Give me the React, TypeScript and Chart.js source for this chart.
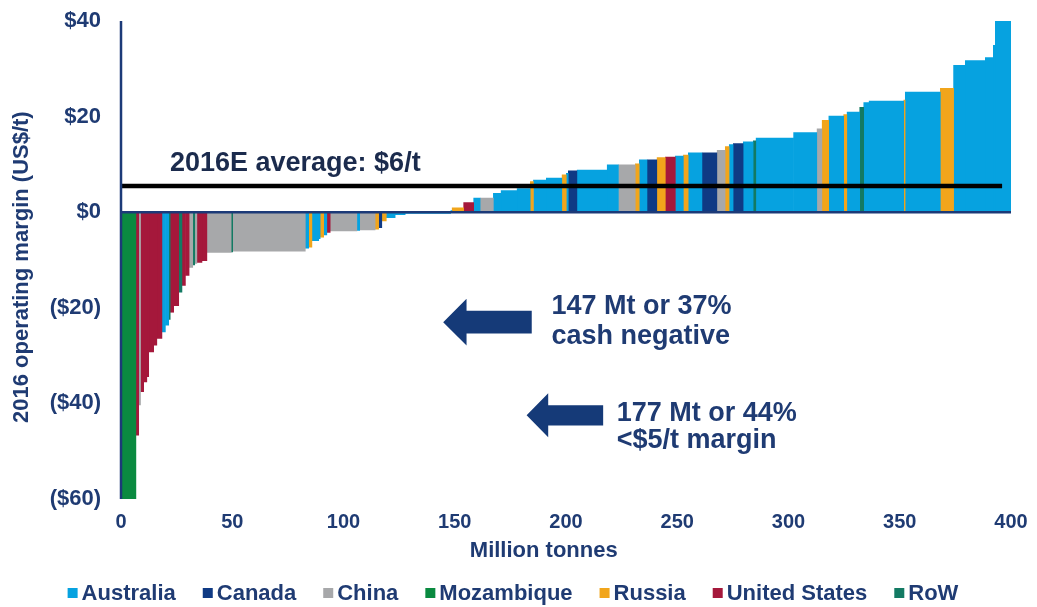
import React, { useEffect, useRef } from "react";
import { Chart, registerables } from "chart.js";

Chart.register(...registerables);

// ---- Data -----------------------------------------------------------------
const countryNames = ["Australia", "Canada", "China", "Mozambique", "Russia", "United States", "RoW"];
const countryCodes = ["AU", "CA", "CN", "MZ", "RU", "US", "RW"];
const countryColors = ["#06a2e0", "#0f3a84", "#a7a8aa", "#0a8a40", "#f1a51b", "#a5183b", "#137a63"];

// Mine-by-mine cost curve: capacity (Mt), 2016 operating margin (US$/t), country
const volumes = [
  6.6, 1.2, 0.8, 1.4, 1.5, 0.8, 2.2, 1.5, 2.3, 1.5,
  1.5, 0.7, 1.5, 2.3, 1.5, 1.5, 1.7, 1.6, 0.9, 1.0,
  2.3, 2.2, 10.9, 0.6, 32.7, 1.5, 1.5, 3.0, 0.7, 1.5,
  1.5, 1.5, 12.0, 1.2, 7.0, 1.5, 1.5, 2.0, 4.0, 4.5,
  20.4, 0.6, 5.2, 4.5, 3.0, 5.9, 3.4, 7.2, 6.0, 1.4,
  5.8, 7.0, 2.0, 0.9, 3.9, 13.5, 5.1, 7.6, 1.8, 3.5,
  4.4, 3.8, 4.5, 3.6, 2.2, 6.2, 6.7, 3.7, 1.8, 1.8,
  4.5, 4.5, 1.2, 16.9, 10.5, 2.3, 3.0, 6.7, 1.5, 5.7,
  1.8, 2.4, 15.6, 0.7, 15.8, 5.9, 5.3, 9.0, 3.6, 0.9,
  7.2,
];
const margins = [
  -60, -46.7, -40.4, -37.6, -35.6, -34.5, -29.3, -27.9, -26.5, -25.1,
  -23.7, -22.5, -21.0, -19.6, -16.8, -15.4, -13.3, -11.6, -11.1, -10.8,
  -10.6, -10.2, -8.5, -8.4, -8.2, -7.6, -7.4, -6.0, -5.6, -5.3,
  -4.8, -4.3, -4.0, -3.9, -3.8, -3.6, -3.3, -1.9, -1.2, -0.6,
  -0.3, 0.4, 1.0, 2.1, 3.0, 3.0, 4.0, 4.6, 5.0, 6.5,
  6.8, 7.2, 7.9, 8.2, 8.7, 8.9, 10.0, 10.0, 10.2, 11.0,
  11.0, 11.5, 11.6, 11.8, 12.0, 12.5, 12.5, 13.0, 13.8, 14.2,
  14.4, 14.8, 15.0, 15.6, 16.7, 17.5, 19.3, 20.2, 20.5, 21.0,
  22.0, 23.0, 23.3, 23.5, 25.2, 26.0, 30.8, 31.8, 32.4, 35.0,
  40.0,
];
const producers = [
  "MZ", "US", "CN", "US", "US", "US", "US", "US", "US", "AU",
  "AU", "RW", "US", "US", "RW", "US", "US", "CN", "RW", "CN",
  "US", "US", "CN", "RW", "CN", "AU", "RU", "AU", "AU", "RU",
  "AU", "US", "CN", "AU", "CN", "RU", "CA", "RU", "AU", "AU",
  "AU", "AU", "RU", "US", "AU", "CN", "AU", "AU", "AU", "RU",
  "AU", "AU", "RU", "AU", "CA", "AU", "AU", "CN", "RU", "AU",
  "CA", "RU", "US", "AU", "RU", "AU", "CA", "CN", "RU", "AU",
  "CA", "AU", "RW", "AU", "AU", "CN", "RU", "AU", "RU", "AU",
  "RW", "AU", "AU", "RU", "AU", "RU", "AU", "AU", "AU", "AU",
  "AU",
];

const averageMargin = 5.5;
const averageSpan = [0, 396];
const averageLabel = "2016E average: $6/t";
const note1 = ["147 Mt or 37%", "cash negative"];
const note2 = ["177 Mt or 44%", "<$5/t margin"];

const yTickValues = [-60, -40, -20, 0, 20, 40];
const xTickValues = [0, 50, 100, 150, 200, 250, 300, 350, 400];
const xTitle = "Million tonnes";
const yTitle = "2016 operating margin (US$/t)";

// ---- Styling --------------------------------------------------------------
const FONT = "'Liberation Sans', Arial, Helvetica, sans-serif";
const NAVY_TEXT = "#1f3b73";
const AXIS_NAVY = "#1c3a78";
const ARROW_NAVY = "#153a78";
const SEAM_OVERLAP = 0.35; // Mt, hides anti-alias seams between adjacent blocks

const fmtMoney = (v: number) => (v === 0 ? "$0" : v > 0 ? `$${v}` : `($${-v})`);

const annotationPlugin = {
  id: "costCurveAnnotations",
  afterDatasetsDraw(chart: any) {
    const { ctx, chartArea, scales } = chart;
    const xs = scales.x;
    const ys = scales.y;
    const X = (v: number) => xs.getPixelForValue(v);
    const Y = (v: number) => ys.getPixelForValue(v);
    ctx.save();
    // axis lines
    ctx.strokeStyle = AXIS_NAVY;
    ctx.lineWidth = 2.5;
    ctx.beginPath();
    ctx.moveTo(chartArea.left, chartArea.top);
    ctx.lineTo(chartArea.left, chartArea.bottom);
    ctx.stroke();
    ctx.beginPath();
    ctx.moveTo(chartArea.left, Y(0));
    ctx.lineTo(chartArea.right, Y(0));
    ctx.stroke();

    // average label
    ctx.fillStyle = "#1b2b4d";
    ctx.font = `bold 27px ${FONT}`;
    ctx.textAlign = "left";
    ctx.textBaseline = "alphabetic";
    ctx.fillText(averageLabel, X(22), Y(8.6));

    // arrows
    const arrow = (tip: number, headEnd: number, end: number, yc: number, headHalf: number, shaftHalf: number) => {
      ctx.beginPath();
      ctx.moveTo(X(tip), Y(yc));
      ctx.lineTo(X(headEnd), Y(yc + headHalf));
      ctx.lineTo(X(headEnd), Y(yc + shaftHalf));
      ctx.lineTo(X(end), Y(yc + shaftHalf));
      ctx.lineTo(X(end), Y(yc - shaftHalf));
      ctx.lineTo(X(headEnd), Y(yc - shaftHalf));
      ctx.lineTo(X(headEnd), Y(yc - headHalf));
      ctx.closePath();
      ctx.fill();
    };
    ctx.fillStyle = ARROW_NAVY;
    arrow(144.8, 155.3, 184.6, -23.0, 4.9, 2.4);
    arrow(182.3, 192.0, 216.7, -42.5, 4.6, 2.1);

    // notes
    ctx.fillStyle = NAVY_TEXT;
    ctx.font = `bold 27px ${FONT}`;
    ctx.fillText(note1[0], X(193.5), Y(-21.3));
    ctx.fillText(note1[1], X(193.5), Y(-27.6));
    ctx.fillText(note2[0], X(222.8), Y(-43.7));
    ctx.fillText(note2[1], X(222.8), Y(-49.4));

    // axis titles
    ctx.font = `bold 22px ${FONT}`;
    ctx.textAlign = "center";
    ctx.textBaseline = "middle";
    ctx.fillText(xTitle, X(190), chartArea.bottom + 52);
    ctx.save();
    ctx.translate(22, Y(-11.5));
    ctx.rotate(-Math.PI / 2);
    ctx.fillText(yTitle, 0, 0);
    ctx.restore();

    // legend
    const box = 10;
    const boxGap = 4;
    const itemGap = 27;
    ctx.font = `bold 22px ${FONT}`;
    ctx.textAlign = "left";
    ctx.textBaseline = "middle";
    const widths = countryNames.map((n) => box + boxGap + ctx.measureText(n).width);
    const total = widths.reduce((a, b) => a + b, 0) + itemGap * (countryNames.length - 1);
    const cy = 593;
    let lx = 513 - total / 2;
    countryNames.forEach((n, i) => {
      ctx.fillStyle = countryColors[i];
      ctx.fillRect(lx, cy - box / 2, box, box);
      ctx.fillStyle = NAVY_TEXT;
      ctx.fillText(n, lx + box + boxGap, cy + 1);
      lx += widths[i] + itemGap;
    });
    ctx.restore();
  },
};

export default function App() {
  const ref = useRef<HTMLCanvasElement | null>(null);

  useEffect(() => {
    if (!ref.current) return;
    let start = 0;
    const barSets = volumes.map((w, i) => {
      const x0 = start;
      start += w;
      const x1 = i < volumes.length - 1 ? start + SEAM_OVERLAP : start;
      const color = countryColors[countryCodes.indexOf(producers[i])];
      return {
        type: "line" as const,
        label: producers[i],
        data: [
          { x: x0, y: margins[i] },
          { x: x1, y: margins[i] },
        ],
        fill: "origin",
        backgroundColor: color,
        borderColor: "rgba(0,0,0,0)",
        borderWidth: 1,
        pointRadius: 0,
        tension: 0,
      };
    });
    const avgSet = {
      type: "line" as const,
      label: "average",
      data: [
        { x: averageSpan[0], y: averageMargin },
        { x: averageSpan[1], y: averageMargin },
      ],
      fill: false,
      borderColor: "#000000",
      backgroundColor: "#000000",
      borderWidth: 4.5,
      pointRadius: 0,
    };

    const chart = new Chart(ref.current, {
      type: "line",
      data: { datasets: [avgSet, ...barSets] as any },
      options: {
        animation: false,
        responsive: true,
        maintainAspectRatio: false,
        events: [],
        layout: { padding: { top: 21, right: 26, bottom: 33, left: 0 } },
        plugins: {
          tooltip: { enabled: false },
          legend: { display: false },
        },
        scales: {
          x: {
            type: "linear",
            min: 0,
            max: 400,
            afterFit: (s: any) => {
              s.height = 75;
            },
            afterBuildTicks: (s: any) => {
              s.ticks = xTickValues.map((v) => ({ value: v }));
            },
            grid: { display: false, drawTicks: true, tickLength: 11, color: "rgba(0,0,0,0)" },
            border: { display: false },
            ticks: {
              padding: 0,
              color: NAVY_TEXT,
              font: { family: FONT, size: 20, weight: "bold" },
              maxRotation: 0,
            },
            title: { display: false, text: xTitle },
          },
          y: {
            type: "linear",
            min: -60,
            max: 40,
            afterFit: (s: any) => {
              s.width = 121;
            },
            afterBuildTicks: (s: any) => {
              s.ticks = yTickValues.map((v) => ({ value: v }));
            },
            grid: { display: false, drawTicks: true, tickLength: 20, color: "rgba(0,0,0,0)" },
            border: { display: false },
            ticks: {
              padding: 0,
              color: NAVY_TEXT,
              font: { family: FONT, size: 22, weight: "bold" },
              callback: (v: any) => fmtMoney(Number(v)),
            },
            title: { display: false, text: yTitle },
          },
        },
      },
      plugins: [annotationPlugin],
    });
    return () => chart.destroy();
  }, []);

  return (
    <div style={{ position: "fixed", left: 0, top: 0, width: 1037, height: 607, background: "#fff" }}>
      <canvas ref={ref} />
    </div>
  );
}
